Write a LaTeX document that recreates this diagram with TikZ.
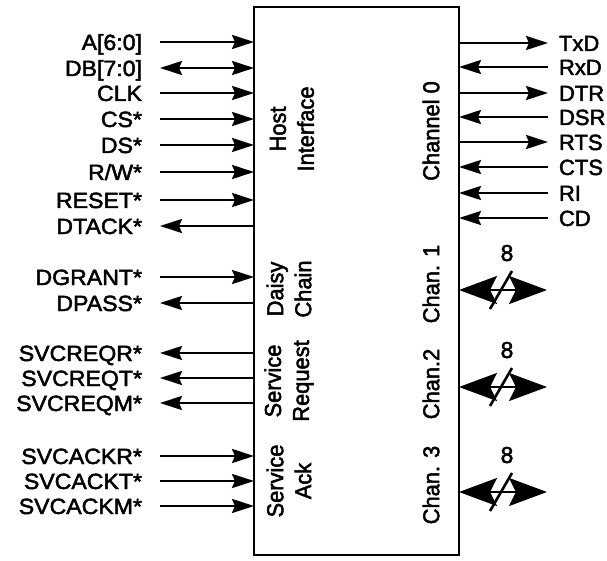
\documentclass[tikz,border=0pt]{standalone}
\usepackage{fontspec}
\setmainfont{Liberation Sans}
\newfontfamily\hfont[FakeStretch=1.05,FakeBold=2.2]{Liberation Sans}
\newfontfamily\rfont[FakeBold=2.2]{Liberation Sans}
\newfontfamily\vfont[FakeStretch=0.95,FakeBold=2.2]{Liberation Sans}
\usetikzlibrary{arrows.meta}
\begin{document}
\begin{tikzpicture}[x=1pt,y=1pt,
  lbl/.style={inner sep=0pt, outer sep=0pt, text height=16pt, text depth=0pt},
  llbl/.style={lbl, font=\hfont\fontsize{22}{26}\selectfont, anchor=east},
  rlbl/.style={lbl, font=\rfont\fontsize{22}{26}\selectfont, anchor=west},
  inner/.style={font=\vfont\fontsize{23}{28}\selectfont, rotate=90, align=center, inner sep=0pt},
  sig/.style={line width=2.6pt},
  tip/.tip={Stealth[length=22pt,width=14pt,inset=3pt]},
  bigtip/.tip={Stealth[length=38pt,width=28pt,inset=7pt]},
  chipbox/.style={draw, line width=2.6pt, minimum width=205pt, minimum height=548pt, inner sep=0pt, outer sep=0pt}
]
\useasboundingbox (0,0) rectangle (607,-561);
\node[chipbox] (chip) at (356.5,-281) {};

% left labels
\foreach \n/\t/\y in {a/A[6:0]/42, db/DB[7:0]/68, clk/CLK/93, cs/CS*/119, ds/DS*/145, rw/{R/W*}/172,
  rst/RESET*/200, dtack/DTACK*/226, dgrant/DGRANT*/277, dpass/DPASS*/303,
  reqr/SVCREQR*/353, reqt/SVCREQT*/378, reqm/SVCREQM*/403,
  ackr/SVCACKR*/456, ackt/SVCACKT*/481, ackm/SVCACKM*/506}
  \node[llbl] (\n) at (142,-\y) {\t};

% left connectors
\foreach \n in {a,clk,cs,ds,rw,rst,dgrant,ackr,ackt,ackm}
  \draw[sig,-tip] ([xshift=18pt]\n.east) -- (\n.east -| chip.west);
\foreach \n in {dtack,dpass,reqr,reqt,reqm}
  \draw[sig,-tip] (\n.east -| chip.west) -- ([xshift=18pt]\n.east);
\draw[sig,tip-tip] ([xshift=18pt]db.east) -- (db.east -| chip.west);

% right labels
\foreach \n/\t/\y in {txd/TxD/43, rxd/RxD/67, dtr/DTR/93, dsr/DSR/117, rts/RTS/142, cts/CTS/167, ri/RI/193, cd/CD/218}
  \node[rlbl] (\n) at (559,-\y) {\t};
\foreach \n in {txd,dtr,rts}
  \draw[sig,-tip] (\n.west -| chip.east) -- ([xshift=-11pt]\n.west);
\foreach \n in {rxd,dsr,cts,ri,cd}
  \draw[sig,-tip] ([xshift=-11pt]\n.west) -- (\n.west -| chip.east);

% buses
\foreach \n/\y in {b1/290, b2/387, b3/492}{
  \coordinate (\n) at (547,-\y);
  \draw[sig,bigtip-bigtip] (\n -| chip.east) -- (\n);
  \draw[line width=2.6pt] ([shift={(-57pt,-19pt)}]\n) -- ([shift={(-35pt,19pt)}]\n);
  \node[font=\rfont\fontsize{23}{26}\selectfont, inner sep=0pt] at ([shift={(-40pt,37pt)}]\n) {8};
}

% inner texts
\node[inner] (host) at (292,-129) {Host\\Interface};
\node[inner] (daisy) at (289,-289) {Daisy\\Chain};
\node[inner] (sreq) at (289,-381) {Service\\Request};
\node[inner] (sack) at (289,-481) {Service\\Ack};
\node[inner] (ch0) at (431,-131) {Channel 0};
\node[inner] (ch1) at (431,-284) {Chan. 1};
\node[inner] (ch2) at (431,-384) {Chan.2};
\node[inner] (ch3) at (431,-485) {Chan. 3};
\end{tikzpicture}
\end{document}
